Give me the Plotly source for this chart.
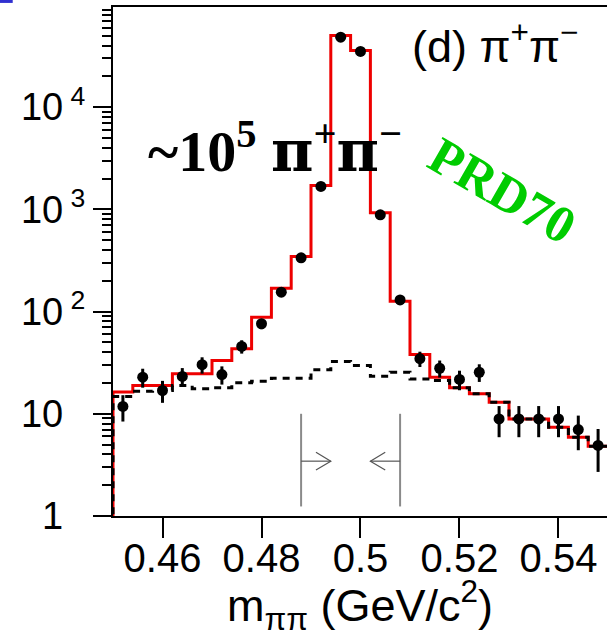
import plotly.graph_objects as go

# ---- data ----
bin_edges = [0.450, 0.454, 0.458, 0.462, 0.466, 0.470, 0.474, 0.478, 0.482, 0.486,
             0.490, 0.494, 0.498, 0.502, 0.506, 0.510, 0.514, 0.518, 0.522, 0.526,
             0.530, 0.534, 0.538, 0.542, 0.546, 0.550]
bin_centers = [0.452, 0.456, 0.460, 0.464, 0.468, 0.472, 0.476, 0.480, 0.484, 0.488,
               0.492, 0.496, 0.500, 0.504, 0.508, 0.512, 0.516, 0.520, 0.524, 0.528,
               0.532, 0.536, 0.540, 0.544, 0.548]
fit_total = [16.3, 18.9, 18.9, 24.6, 24.6, 33.2, 43.3, 88, 169, 346,
             1714, 50300, 35900, 925, 126, 38, 22.8, 18.0, 15.7, 13.0,
             8.9, 8.9, 7.4, 5.9, 4.8]
background = [14.8, 16.6, 16.9, 18.9, 17.6, 18.0, 20.1, 20.8, 22.3, 22.3,
              26.9, 32.5, 29.7, 23.3, 25.5, 21.9, 21.2, 18.0, 15.7, 13.0,
              8.9, 8.9, 7.4, 5.9, 4.8]
data_counts = [11.8, 22.8, 16.9, 23.2, 30.2, 24.2, 45.6, 76, 155, 336,
               1675, 48400, 35100, 885, 130, 34.6, 27.9, 21.7, 25.5, 8.9,
               8.9, 8.9, 8.9, 7.0, 4.9]
data_errors = [3.4, 4.8, 4.1, 4.8, 5.5, 4.9, 6.8, 8.7, 12.4, 18.3,
               41, 220, 187, 30, 11.4, 5.9, 5.3, 4.7, 5.0, 3.0,
               3.0, 3.0, 3.0, 2.6, 2.2]
cut_window = [0.488, 0.508]
cut_line_y = [1.24, 10.0]
cut_arrow_y = 3.44
cut_arrow_len = 0.006

y_major = [1, 10, 100, 1000, 10000]
y_major_text = [
    "1<sup>\u00a0<span style='color:rgba(0,0,0,0)'>0</span></sup>",
    "10<sup>\u00a0<span style='color:rgba(0,0,0,0)'>0</span></sup>",
    "10<sup>\u00a02</sup>",
    "10<sup>\u00a03</sup>",
    "10<sup>\u00a04</sup>",
]
y_minor = [m * 10 ** k for k in range(0, 5) for m in range(2, 10)]
x_ticks = [0.46, 0.48, 0.50, 0.52, 0.54]
x_ticktext = ["0.46", "0.48", "0.5", "0.52", "0.54"]

fig = go.Figure()

def step_xy(vals):
    xs = [bin_edges[0]] + list(bin_edges)
    ys = [0.1] + list(vals) + [vals[-1]]
    return xs, ys

# cut window lines and arrows
for i, xc in enumerate(cut_window):
    fig.add_trace(go.Scatter(x=[xc, xc], y=cut_line_y, mode="lines",
                             line=dict(color="#8a8a8a", width=2),
                             showlegend=False, hoverinfo="skip"))
    direction = 1 if i == 0 else -1
    tip = xc + direction * cut_arrow_len
    fig.add_trace(go.Scatter(x=[xc, tip], y=[cut_arrow_y, cut_arrow_y], mode="lines",
                             line=dict(color="#555555", width=1.2),
                             showlegend=False, hoverinfo="skip"))
    back = tip - direction * 0.003
    fig.add_trace(go.Scatter(x=[back, tip, back],
                             y=[cut_arrow_y * 1.22, cut_arrow_y, cut_arrow_y / 1.22],
                             mode="lines", line=dict(color="#555555", width=1.2),
                             showlegend=False, hoverinfo="skip"))

xs, ys = step_xy(fit_total)
fig.add_trace(go.Scatter(x=xs, y=ys, mode="lines", line_shape="hv",
                         line=dict(color="#ee0000", width=3),
                         showlegend=False, hoverinfo="skip"))
xs, ys = step_xy(background)
fig.add_trace(go.Scatter(x=xs, y=ys, mode="lines", line_shape="hv",
                         line=dict(color="black", width=3, dash="7px,6px"),
                         showlegend=False, hoverinfo="skip"))
fig.add_trace(go.Scatter(x=bin_centers, y=data_counts, mode="markers",
                         marker=dict(color="black", size=11),
                         error_y=dict(type="data", array=data_errors, color="black",
                                      thickness=3, width=0),
                         showlegend=False))

font_sans = "Liberation Sans, Arial, sans-serif"
font_serif = "Liberation Serif, Times New Roman, serif"

fig.update_layout(
    width=607, height=637,
    margin=dict(l=113, r=0, t=7, b=121),
    paper_bgcolor="white", plot_bgcolor="white",
    font=dict(family=font_sans, color="black"),
    xaxis=dict(range=[0.45, 0.5498], tickvals=x_ticks, ticktext=x_ticktext,
               ticks="outside", ticklen=20, tickwidth=2, tickcolor="black",
               showline=True, linewidth=2, linecolor="black", mirror=True,
               showgrid=False, zeroline=False, ticklabelstandoff=-14,
               automargin=False,
               tickfont=dict(size=40, family=font_sans, color="black"),
               title=dict(text="m<sub>ππ</sub> (GeV/c<sup>2</sup>)",
                          font=dict(size=45, family=font_sans, color="black"),
                          standoff=25)),
    yaxis=dict(type="log", range=[0, 4.98], tickvals=y_major, ticktext=y_major_text,
               ticks="outside", ticklen=18, tickwidth=2, tickcolor="black",
               minor=dict(tickvals=y_minor, ticks="outside", ticklen=9,
                          tickwidth=2, tickcolor="black"),
               showline=True, linewidth=2, linecolor="black", mirror=False,
               showgrid=False, zeroline=False, ticklabelstandoff=0,
               automargin=False,
               tickfont=dict(size=38, family=font_sans, color="black")),
)

pi_wide = "<span style='font-family:DejaVu Serif'>π</span>"
fig.add_annotation(x=0.4567, y=3.60, xref="x", yref="y", xanchor="left", yanchor="middle",
                   text="<b>~10<sup>5</sup> " + pi_wide + "<sup>+</sup>" + pi_wide + "<sup>−</sup></b>",
                   showarrow=False,
                   font=dict(size=58, family=font_serif, color="black"))
fig.add_annotation(x=0.5100, y=4.63, xref="x", yref="y", xanchor="left", yanchor="middle",
                   text="(d) π<sup>+</sup>π<sup>−</sup>", showarrow=False,
                   font=dict(size=45, family=font_sans, color="black"))
fig.add_annotation(x=0.5286, y=3.185, xref="x", yref="y", xanchor="center", yanchor="middle",
                   text="<b>PRD70</b>", textangle=30, showarrow=False,
                   font=dict(size=52, family=font_serif, color="#00cc00"))

fig.add_shape(type="rect", xref="paper", yref="paper",
              x0=-0.229, x1=-0.203, y0=1.008, y1=1.014,
              fillcolor="#3030d0", line=dict(width=0))

fig.write_html("out.html")
